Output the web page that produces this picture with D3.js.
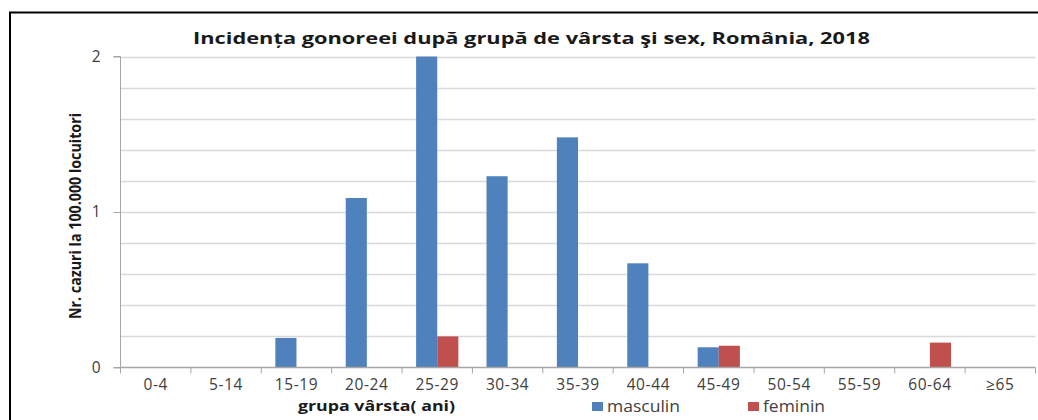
<!DOCTYPE html>
<html>
<head>
<meta charset="utf-8">
<script src="https://cdn.jsdelivr.net/npm/d3@7"></script>
<style>
  body { margin: 0; background: #fff; }
  text { font-family: "Open Sans", "DejaVu Sans", sans-serif; }
</style>
</head>
<body>
<div id="canvas"><svg width="1038" height="420"></svg></div>
<script>
// data
var categories = ["0-4", "5-14", "15-19", "20-24", "25-29", "30-34", "35-39", "40-44", "45-49", "50-54", "55-59", "60-64", "\u226565"];
var masculin = [0, 0, 0.19, 1.09, 2.0, 1.23, 1.48, 0.67, 0.13, 0, 0, 0, 0];
var feminin  = [0, 0, 0, 0, 0.20, 0, 0, 0, 0.14, 0, 0, 0.16, 0];
var series = ["masculin", "feminin"];
var yTicks = [0, 1, 2];

var colors = d3.scaleOrdinal().domain(series).range(["#4f81bd", "#c0504d"]);

var svg = d3.select("#canvas svg"),
    plotLeft = 120.5,
    plotRight = 1035.5,
    plotTop = 56.5,
    plotBottom = 367.5;

// outer frame (only left and top visible)
svg.append("rect")
.attr("x", 10).attr("y", 12.5)
.attr("width", 1100).attr("height", 500)
.attr("fill", "none")
.attr("stroke", "#000")
.attr("stroke-width", 2);

var x0 = d3.scaleBand().domain(categories).range([plotLeft, plotRight]).padding(0);
var x1 = d3.scaleBand().domain(series).range([x0.bandwidth() * 0.2, x0.bandwidth() * 0.8]);
var y = d3.scaleLinear().domain([0, 2]).range([plotBottom, plotTop]);

// gridlines every 0.2
var grid = svg.append("g");
grid.selectAll("line")
.data(d3.range(1, 11).map(function (i) { return i * 0.2; }))
.enter().append("line")
.attr("x1", plotLeft).attr("x2", plotRight)
.attr("y1", function (d) { return Math.round(y(d)) + 0.5; })
.attr("y2", function (d) { return Math.round(y(d)) + 0.5; })
.attr("stroke", "#d9d9d9")
.attr("stroke-width", 1.3);

// bars
var rows = categories.map(function (c, i) { return {cat: c, values: [masculin[i], feminin[i]]}; });
var groups = svg.append("g").selectAll("g")
.data(rows).enter().append("g")
.attr("transform", function (d) { return "translate(" + x0(d.cat) + ",0)"; });

groups.selectAll("rect")
.data(function (d) { return d.values.map(function (v, j) { return {s: series[j], v: v}; }); })
.enter().filter(function (d) { return d.v > 0; })
.append("rect")
.attr("x", function (d) { return x1(d.s); })
.attr("width", x1.bandwidth())
.attr("y", function (d) { return y(d.v); })
.attr("height", function (d) { return plotBottom - y(d.v); })
.attr("fill", function (d) { return colors(d.s); });

// y axis
var yAxis = svg.append("g")
.attr("transform", "translate(" + plotLeft + ",0)")
.call(d3.axisLeft(y).tickValues(yTicks).tickSize(7).tickPadding(13).tickFormat(d3.format("d")));
yAxis.select(".domain").attr("stroke", "#a6a6a6").attr("d", "M-7," + plotTop + "H0V" + plotBottom + "H-7");
yAxis.selectAll(".tick line").attr("stroke", "#a6a6a6");
yAxis.selectAll(".tick text").attr("font-size", 15.5).attr("fill", "#404040")
.attr("font-family", "'Open Sans', sans-serif");

// x axis with ticks at category boundaries
var xAxis = svg.append("g").attr("transform", "translate(0," + plotBottom + ")");
xAxis.append("line")
.attr("x1", plotLeft).attr("x2", plotRight)
.attr("stroke", "#a6a6a6").attr("stroke-width", 1.3);
xAxis.selectAll(".bound")
.data(categories.concat(["end"]))
.enter().append("line")
.attr("x1", function (d, i) { return i < categories.length ? x0(d) : plotRight; })
.attr("x2", function (d, i) { return i < categories.length ? x0(d) : plotRight; })
.attr("y1", 0).attr("y2", 6)
.attr("stroke", "#a6a6a6");
xAxis.selectAll(".lab")
.data(categories)
.enter().append("text")
.attr("x", function (d) { return x0(d) + x0.bandwidth() / 2; })
.attr("y", 22)
.attr("text-anchor", "middle")
.attr("font-size", 15.5)
.attr("letter-spacing", 0.6)
.attr("fill", "#404040")
.text(function (d) { return d; });

// title
svg.append("text")
.attr("x", 193).attr("y", 44)
.attr("font-size", 16.5).attr("font-weight", "bold").attr("fill", "#1a1a1a")
.attr("textLength", 677).attr("lengthAdjust", "spacingAndGlyphs")
.text("Inciden\u021ba gonoreei dup\u0103 grup\u0103 de v\u00e2rsta \u015fi sex, Rom\u00e2nia, 2018");

// y axis title
svg.append("text")
.attr("transform", "translate(81,216) rotate(-90)")
.attr("text-anchor", "middle")
.attr("font-family", "'Liberation Sans Narrow', 'Liberation Sans', sans-serif")
.attr("font-size", 16).attr("font-weight", "bold").attr("fill", "#1a1a1a")
.attr("textLength", 206).attr("lengthAdjust", "spacingAndGlyphs")
.text("Nr. cazuri la 100.000 locuitori");

// x axis title
svg.append("text")
.attr("x", 298).attr("y", 411)
.attr("font-size", 15).attr("font-weight", "bold").attr("fill", "#1a1a1a")
.attr("textLength", 157).attr("lengthAdjust", "spacingAndGlyphs")
.text("grupa v\u00e2rsta( ani)");

// legend
var legendX = [592, 748];
var legendW = [73, 62];
var legend = svg.append("g").selectAll("g")
.data(series).enter().append("g")
.attr("transform", function (d, i) { return "translate(" + legendX[i] + ",402)"; });
legend.append("rect")
.attr("width", 11).attr("height", 9)
.attr("fill", function (d) { return colors(d); });
legend.append("text")
.attr("x", 15).attr("y", 10)
.attr("font-size", 15.5).attr("fill", "#404040")
.attr("textLength", function (d, i) { return legendW[i]; })
.attr("lengthAdjust", "spacingAndGlyphs")
.text(function (d) { return d; });
</script>
</body>
</html>
